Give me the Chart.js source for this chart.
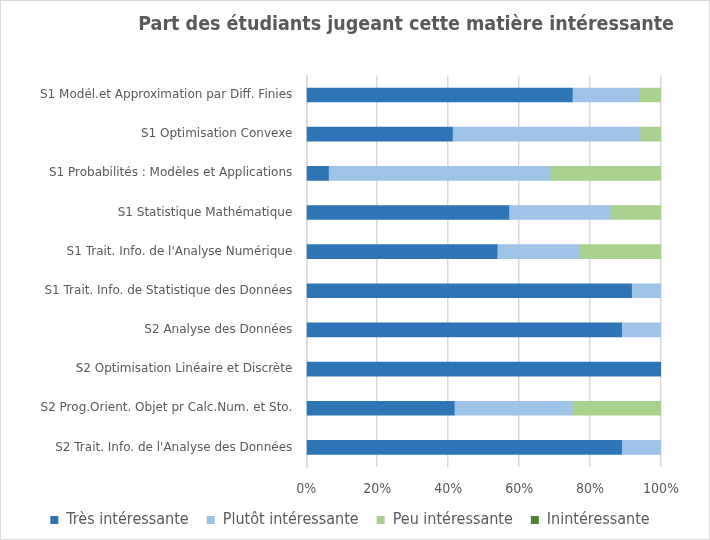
<!DOCTYPE html>
<html>
<head>
<meta charset="utf-8">
<script src="https://cdn.jsdelivr.net/npm/chart.js@4"></script>
<style>
body { margin: 0; background: #fff; }
#box { position: absolute; left: 0; top: 0; width: 708px; height: 538px; border: 1px solid #d9d9d9; }
</style>
</head>
<body>
<div id="box"><canvas id="chart" width="708" height="538"></canvas></div>
<script>
var matieres = [
    'S1 Modél.et Approximation par Diff. Finies',
    'S1 Optimisation Convexe',
    'S1 Probabilités : Modèles et Applications',
    'S1 Statistique Mathématique',
    "S1 Trait. Info. de l'Analyse Numérique",
    'S1 Trait. Info. de Statistique des Données',
    'S2 Analyse des Données',
    'S2 Optimisation Linéaire et Discrète',
    'S2 Prog.Orient. Objet pr Calc.Num. et Sto.',
    "S2 Trait. Info. de l'Analyse des Données"
];
// parts en %
var tres = [75, 41.2, 6.25, 57.1, 53.8, 91.7, 88.9, 100, 41.7, 88.9];
var plutot = [18.75, 52.9, 62.5, 28.6, 23.1, 8.3, 11.1, 0, 33.3, 11.1];
var peu = [6.25, 5.9, 31.25, 14.3, 23.1, 0, 0, 0, 25, 0];
var inint = [0, 0, 0, 0, 0, 0, 0, 0, 0, 0];

var fontFam = '"DejaVu Sans Condensed", "DejaVu Sans", sans-serif';
var labelFam = '"DejaVu Sans", sans-serif';
var grey = '#595959';

function serie(label, data, color)
{
    return {
        label: label,
        data: data,
        backgroundColor: color,
        borderWidth: 0,
        barThickness: 14
    };
}

new Chart(document.getElementById('chart'), {
    type: 'bar',
    data: {
        labels: matieres,
        datasets: [
            serie('Très intéressante', tres, '#2e75b6'),
            serie('Plutôt intéressante', plutot, '#9dc3e6'),
            serie('Peu intéressante', peu, '#a9d18e'),
            serie('Inintéressante', inint, '#548235')
        ]
    },
    options: {
        indexAxis: 'y',
        responsive: false,
        animation: false,
        layout: { padding: { left: 25, right: 35, top: 8, bottom: 1 } },
        scales: {
            x: {
                stacked: true,
                min: 0,
                max: 100,
                // tick labels may overhang: keep the legend close like the original
                afterFit: function(s) { s.paddingRight = 48; s.height = 27; },
                ticks: {
                    stepSize: 20,
                    color: grey,
                    padding: 14,
                    font: { family: fontFam, size: 14 },
                    callback: function(v) { return v + '%'; }
                },
                grid: { color: '#d9d9d9', lineWidth: 1.5, drawTicks: false },
                border: { display: false }
            },
            y: {
                stacked: true,
                ticks: {
                    color: grey,
                    padding: 14,
                    font: { family: labelFam, size: 12 }
                },
                grid: { display: false, drawTicks: false },
                border: { color: '#d9d9d9', width: 1.5 }
            }
        },
        plugins: {
            title: {
                display: true,
                text: 'Part des étudiants jugeant cette matière intéressante',
                align: 'end',
                color: grey,
                font: { family: fontFam, size: 19.5, weight: 'bold' },
                padding: { top: 4, bottom: 39 }
            },
            legend: {
                position: 'bottom',
                labels: {
                    color: grey,
                    boxWidth: 8,
                    boxHeight: 8,
                    padding: 18,
                    font: { family: fontFam, size: 16 }
                }
            },
            tooltip: { enabled: false }
        }
    }
});
</script>
</body>
</html>
